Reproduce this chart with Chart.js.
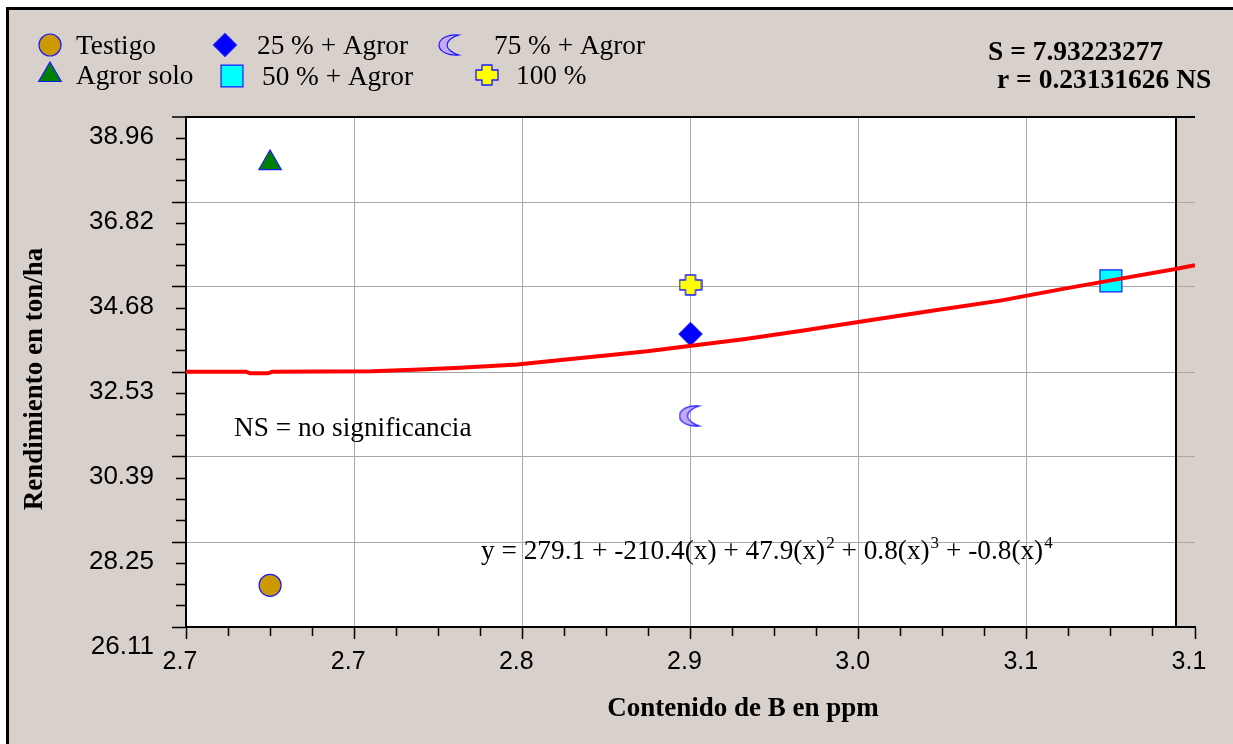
<!DOCTYPE html>
<html>
<head>
<meta charset="utf-8">
<script src="https://cdn.jsdelivr.net/npm/chart.js@4/dist/chart.umd.min.js"></script>
<style>
  html, body { margin: 0; padding: 0; background: #ffffff; }
  #wrap { position: relative; width: 1233px; height: 744px; overflow: hidden; }
  #frame { position: absolute; left: 6px; top: 7px; right: -10px; bottom: -10px;
           background: #d8d0ca; border-left: 3px solid #000; border-top: 3px solid #000; }
  #c { position: absolute; left: 0; top: 0; }
</style>
</head>
<body>
<div id="wrap">
  <div id="frame"></div>
  <canvas id="c" width="1233" height="744"></canvas>
</div>
<script>
// Tratamientos: contenido de boro (ppm) y rendimiento (ton/ha)
const TREATMENTS  = ['Testigo', 'Agror solo', '25 % + Agror', '50 % + Agror', '75 % + Agror', '100 %'];
const BORO_PPM    = [2.70, 2.70, 2.90, 3.10, 2.90, 2.90];
const RENDIMIENTO = [27.16, 37.80, 33.49, 34.83, 31.43, 34.73];

// Curva de regresión ajustada
const FIT_X = [2.660, 2.6886, 2.6905, 2.699, 2.701, 2.7485, 2.7714, 2.7904, 2.8176, 2.8395, 2.8609,
               2.8794, 2.8994, 2.9261, 2.9522, 2.9798, 3.0141, 3.0474, 3.076, 3.0993, 3.1307, 3.140];
const FIT_Y = [32.544, 32.544, 32.503, 32.503, 32.544, 32.554, 32.599, 32.644, 32.725, 32.846, 32.957,
               33.058, 33.191, 33.368, 33.569, 33.796, 34.073, 34.333, 34.617, 34.837, 35.132, 35.225];

// Ejes
const X_MIN = 2.66, X_MAX = 3.14;
const Y_MIN = 26.11, Y_MAX = 38.96;
const X_TICK_LABELS = ['2.7', '2.7', '2.8', '2.9', '3.0', '3.1', '3.1'];
const Y_TICK_LABELS = ['26.11', '28.25', '30.39', '32.53', '34.68', '36.82', '38.96'];
const MINOR_PER_MAJOR = 4;

const STAT_S = 'S = 7.93223277';
const STAT_R = 'r = 0.23131626 NS';
const NS_NOTE = 'NS = no significancia';
const EQUATION = [['y = 279.1 + -210.4(x) + 47.9(x)', '2'], [' + 0.8(x)', '3'], [' + -0.8(x)', '4']];
const X_TITLE = 'Contenido de B en ppm';
const Y_TITLE = 'Rendimiento en ton/ha';

const SERIF = '"Liberation Serif", "Times New Roman", serif';
const SANS = '"Liberation Sans", Arial, sans-serif';
const TEXT_FONT = '27.3px ' + SERIF;
const MARKER_EDGE = '#1a1aff';

// Custom marker images: crescent and plus
function crescentMarker() {
  const c = document.createElement('canvas'); c.width = 24; c.height = 22;
  const g = c.getContext('2d');
  g.beginPath();
  g.moveTo(21, 1);
  g.bezierCurveTo(11, 0, 1, 4, 1, 11);
  g.bezierCurveTo(1, 18, 11, 22, 21, 21);
  g.bezierCurveTo(14, 19, 9, 15, 9, 11);
  g.bezierCurveTo(9, 7, 14, 3, 21, 1);
  g.closePath();
  g.fillStyle = '#c6a8fa'; g.fill();
  g.lineWidth = 1.2; g.strokeStyle = MARKER_EDGE; g.stroke();
  return c;
}
function plusMarker() {
  const c = document.createElement('canvas'); c.width = 24; c.height = 22;
  const g = c.getContext('2d');
  g.beginPath();
  g.moveTo(7, 1); g.lineTo(17, 1); g.lineTo(17, 6); g.lineTo(23, 6); g.lineTo(23, 16);
  g.lineTo(17, 16); g.lineTo(17, 21); g.lineTo(7, 21); g.lineTo(7, 16); g.lineTo(1, 16);
  g.lineTo(1, 6); g.lineTo(7, 6); g.closePath();
  g.lineJoin = 'round';
  g.fillStyle = '#ffff00'; g.fill();
  g.lineWidth = 1.3; g.strokeStyle = MARKER_EDGE; g.stroke();
  return c;
}
const CRESCENT = crescentMarker();
const PLUS = plusMarker();

const MARKERS = [
  { pointStyle: 'circle',   radius: 11,   fill: '#cc9900' },
  { pointStyle: 'triangle', radius: 13,   fill: '#008000' },
  { pointStyle: 'rectRot',  radius: 11.5, fill: '#0000ff' },
  { pointStyle: 'rect',     radius: 15.5, fill: '#00ffff' },
  { pointStyle: CRESCENT,   radius: 11,   fill: '#c6a8fa' },
  { pointStyle: PLUS,       radius: 11,   fill: '#ffff00' }
];

// Legend slots: marker centre x, y and text x
const LEGEND_SLOTS = [[50, 45, 76], [50, 75, 76], [225, 45, 257], [232, 76, 262], [450, 45, 494], [487, 75, 516]];

function makeTicks(min, max) {
  const n = (Y_TICK_LABELS.length - 1) * MINOR_PER_MAJOR;
  const out = [];
  for (let i = 0; i <= n; i++) out.push({ value: min + (max - min) * i / n });
  return out;
}
const isMajor = i => i % MINOR_PER_MAJOR === 0;

const decorations = {
  id: 'decorations',
  beforeDraw(chart) {
    const { ctx, chartArea: a } = chart;
    ctx.save();
    ctx.fillStyle = '#ffffff';
    ctx.fillRect(a.left, a.top, a.right - 19 - a.left, a.bottom - a.top);
    ctx.restore();
  },
  beforeDatasetsDraw(chart) {
    const { ctx, chartArea: a } = chart;
    ctx.save();
    ctx.strokeStyle = '#000'; ctx.lineWidth = 2;
    ctx.beginPath(); ctx.moveTo(a.right - 19, a.top); ctx.lineTo(a.right - 19, a.bottom); ctx.stroke();
    ctx.restore();
  },
  afterDraw(chart) {
    const ctx = chart.ctx;
    ctx.save();
    ctx.fillStyle = '#000';
    ctx.textBaseline = 'alphabetic';
    ctx.textAlign = 'left';

    // legend
    TREATMENTS.forEach((name, i) => {
      const [mx, my, tx] = LEGEND_SLOTS[i];
      const m = MARKERS[i];
      ctx.save();
      ctx.fillStyle = m.fill; ctx.strokeStyle = MARKER_EDGE; ctx.lineWidth = 1.2;
      Chart.helpers.drawPoint(ctx, { pointStyle: m.pointStyle, radius: m.radius, rotation: 0, borderWidth: 1.2 }, mx, my);
      ctx.restore();
      ctx.font = TEXT_FONT;
      ctx.fillText(name, tx, my + 9);
    });

    // statistics
    ctx.font = 'bold 27.5px ' + SERIF;
    ctx.fillText(STAT_S, 988, 60);
    ctx.fillText(STAT_R, 997, 88);

    // note
    ctx.font = TEXT_FONT;
    ctx.fillText(NS_NOTE, 234, 436);

    // equation with superscripts
    let ex = 481; const ey = 559;
    EQUATION.forEach(([txt, sup]) => {
      ctx.font = TEXT_FONT;
      ctx.fillText(txt, ex, ey);
      ex += ctx.measureText(txt).width;
      ctx.font = '17px ' + SERIF;
      ctx.fillText(sup, ex + 1, ey - 11);
      ex += ctx.measureText(sup).width + 1;
    });

    // axis titles
    ctx.font = 'bold 27px ' + SERIF;
    ctx.textAlign = 'center';
    ctx.fillText(X_TITLE, 743, 716);
    ctx.translate(42, 379);
    ctx.rotate(-Math.PI / 2);
    ctx.fillText(Y_TITLE, 0, 0);
    ctx.restore();
  }
};

const datasets = [{
  label: 'Ajuste',
  data: FIT_X.map((x, i) => ({ x, y: FIT_Y[i] })),
  showLine: true,
  borderColor: '#ff0000',
  borderWidth: 4,
  pointRadius: 0,
  tension: 0
}];
TREATMENTS.forEach((name, i) => {
  const m = MARKERS[i];
  datasets.push({
    label: name,
    data: [{ x: BORO_PPM[i], y: RENDIMIENTO[i] }],
    pointStyle: m.pointStyle,
    pointRadius: m.radius,
    backgroundColor: m.fill,
    borderColor: MARKER_EDGE,
    borderWidth: 1.2
  });
});

new Chart(document.getElementById('c'), {
  type: 'scatter',
  data: { datasets },
  options: {
    responsive: false,
    devicePixelRatio: 1,
    animation: false,
    events: [],
    layout: { padding: { left: 0, right: 38, top: 117, bottom: 0 } },
    plugins: { legend: { display: false }, tooltip: { enabled: false } },
    scales: {
      x: {
        type: 'linear', min: X_MIN, max: X_MAX,
        afterBuildTicks: s => { s.ticks = makeTicks(X_MIN, X_MAX); },
        afterFit: s => { s.height = 117; },
        border: { display: true, color: '#000', width: 2 },
        grid: {
          color: c => (isMajor(c.index) && c.index > 0 && c.index < 24) ? '#a8a8a8' : 'rgba(0,0,0,0)',
          lineWidth: 1,
          tickColor: '#000', tickWidth: 1.5, tickLength: 12,
          tickBorderDash: c => isMajor(c.index) ? [] : [8, 30]
        },
        ticks: {
          autoSkip: false, maxRotation: 0, minRotation: 0,
          padding: 8, labelOffset: -6,
          color: '#000', font: { family: SANS, size: 25 },
          callback: (v, i) => isMajor(i) ? X_TICK_LABELS[i / MINOR_PER_MAJOR] : ''
        }
      },
      y: {
        type: 'linear', min: Y_MIN, max: Y_MAX,
        afterBuildTicks: s => { s.ticks = makeTicks(Y_MIN, Y_MAX); },
        afterFit: s => { s.width = 186; },
        border: { display: true, color: '#000', width: 2 },
        grid: {
          color: c => c.index === 24 ? '#000' : ((isMajor(c.index) && c.index > 0) ? '#a8a8a8' : 'rgba(0,0,0,0)'),
          lineWidth: c => c.index === 24 ? 2 : 1,
          tickColor: '#000', tickWidth: 1.5, tickLength: 14,
          tickBorderDash: c => isMajor(c.index) ? [] : [0, 4, 10]
        },
        ticks: {
          autoSkip: false, padding: 18, labelOffset: 20,
          color: '#000', font: { family: SANS, size: 26 },
          callback: (v, i) => isMajor(i) ? Y_TICK_LABELS[i / MINOR_PER_MAJOR] : ''
        }
      }
    }
  },
  plugins: [decorations]
});
</script>
</body>
</html>
